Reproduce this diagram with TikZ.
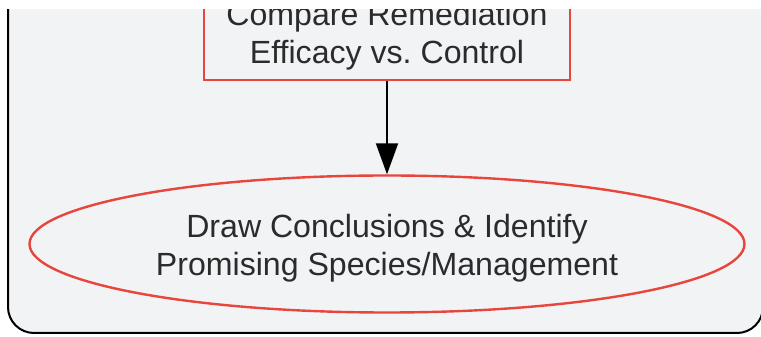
\documentclass[tikz,border=0pt]{standalone}
\usepackage{fontspec}
\setmainfont{Liberation Sans}
\usetikzlibrary{shapes.geometric,arrows.meta}
\definecolor{boxred}{HTML}{E8453C}
\definecolor{panelgray}{HTML}{F2F3F5}
\definecolor{inkgray}{HTML}{2B2B2B}
\begin{document}
\begin{tikzpicture}[x=1pt,y=1pt,
    procbox/.style={draw=boxred, line width=2.4pt, fill=panelgray, rectangle,
        minimum width=366pt, minimum height=88pt, inner sep=0pt,
        align=center, text=inkgray},
    endoval/.style={draw=boxred, line width=2.4pt, fill=panelgray, ellipse,
        minimum width=715pt, minimum height=137pt, inner sep=0pt},
    ovaltext/.style={align=center, text=inkgray, yshift=-4pt},
    flow/.style={line width=2pt, -{Triangle[length=31pt,width=22pt]}}]
    \fontsize{32.1pt}{37.5pt}\selectfont
    \useasboundingbox (0,0) rectangle (761,337);
    \fill[white] (0,0) rectangle (761,337);
    \begin{scope}
    \clip (0,0) rectangle (761,327);
    % panel
    \filldraw[line width=2pt, draw=black, fill=panelgray, rounded corners=26pt] (8,4) rectangle (763,400);
    \node[procbox] (compare) at (387,301) {Compare Remediation\\Efficacy vs.\ Control};
    \node[endoval, label={[ovaltext]center:Draw Conclusions \& Identify\\Promising Species/Management}] (concl) at (387,93) {};
    \draw[flow] (compare.south) -- (concl.north);
    \end{scope}
\end{tikzpicture}
\end{document}
